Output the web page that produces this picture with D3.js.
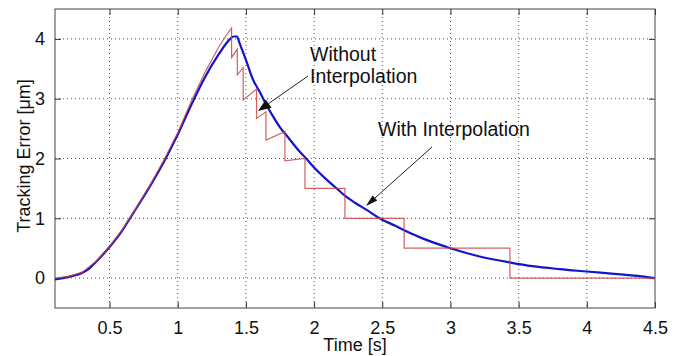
<!DOCTYPE html>
<html lang="en">
<head>
  <meta charset="UTF-8">
  <script src="https://cdn.jsdelivr.net/npm/d3@7"></script>
  <title>Tracking Error</title>
  <style>
    body { margin: 0; background: #fff; }
    text { font-family: "Liberation Sans", Arial, sans-serif; fill: #111; }
    .grid line { stroke: #555; stroke-dasharray: 1,3; }
  </style>
</head>
<body>
  <script>
    // blue curve: with interpolation [time s, error um]
    const withInterp = [
      [0.1, -0.02], [0.2, 0.02], [0.3, 0.09], [0.35, 0.16], [0.4, 0.27], [0.5, 0.52],
      [0.6, 0.82], [0.65, 1.0], [0.7, 1.18], [0.8, 1.55], [0.9, 1.95], [1.0, 2.4],
      [1.1, 2.9], [1.2, 3.36], [1.3, 3.74], [1.376, 3.98], [1.41, 4.04], [1.435, 4.04],
      [1.45, 3.95], [1.5, 3.65], [1.55, 3.33], [1.6, 3.12], [1.65, 2.9], [1.7, 2.7],
      [1.75, 2.52], [1.8, 2.38], [1.9, 2.1], [1.93, 2.03], [2.0, 1.85], [2.1, 1.63],
      [2.165, 1.5], [2.23, 1.37], [2.3, 1.26], [2.4, 1.12], [2.48, 1.0], [2.6, 0.87],
      [2.66, 0.8], [2.8, 0.66], [3.0, 0.5], [3.2, 0.37], [3.44, 0.26], [3.6, 0.2],
      [3.8, 0.15], [4.0, 0.11], [4.2, 0.07], [4.4, 0.03], [4.5, 0.0]
    ];
    // red curve: without interpolation
    const withoutInterp = [
      [0.1, 0.0], [0.2, 0.03], [0.3, 0.1], [0.4, 0.28], [0.5, 0.53], [0.6, 0.83],
      [0.7, 1.19], [0.8, 1.57], [0.9, 1.98], [1.0, 2.43], [1.1, 2.96], [1.2, 3.44],
      [1.3, 3.86], [1.35, 4.04], [1.395, 4.18],
      [1.395, 3.69], [1.437, 3.83], [1.437, 3.4], [1.48, 3.52], [1.48, 2.98],
      [1.578, 3.16], [1.578, 2.67], [1.647, 2.78], [1.647, 2.31], [1.786, 2.45],
      [1.786, 1.96], [1.933, 2.0], [1.933, 1.5], [2.226, 1.5], [2.226, 1.0],
      [2.66, 1.0], [2.66, 0.5], [3.436, 0.5], [3.436, 0.0], [4.5, 0.0]
    ];
    const xTicks = [0.5, 1, 1.5, 2, 2.5, 3, 3.5, 4, 4.5];
    const yTicks = [0, 1, 2, 3, 4];

    const width = 686, height = 356;
    const mLeft = 55, mRight = 655, mTop = 9, mBottom = 308;

    const x = d3.scaleLinear().domain([0.1, 4.5]).range([mLeft, mRight]);
    const y = d3.scaleLinear().domain([-0.5, 4.5]).range([mBottom, mTop]);

    const svg = d3.select("body").append("svg")
      .attr("width", width).attr("height", height);

    // grid
    const grid = svg.append("g").attr("class", "grid");
    grid.selectAll("line.gx").data(xTicks.filter(d => d < 4.5)).join("line").attr("class", "gx")
      .attr("x1", x).attr("x2", x).attr("y1", mTop).attr("y2", mBottom);
    grid.selectAll("line.gy").data(yTicks).join("line").attr("class", "gy")
      .attr("x1", mLeft).attr("x2", mRight).attr("y1", y).attr("y2", y);

    // axes, ticks inward on all sides
    const tickLen = 6;
    const fmt = d3.format("");
    const axB = svg.append("g").attr("transform", `translate(0,${mBottom})`)
      .call(d3.axisBottom(x).tickValues(xTicks).tickSizeInner(-tickLen).tickSizeOuter(0).tickPadding(13).tickFormat(fmt));
    const axT = svg.append("g").attr("transform", `translate(0,${mTop})`)
      .call(d3.axisTop(x).tickValues(xTicks).tickSizeInner(-tickLen).tickSizeOuter(0).tickFormat(""));
    const axL = svg.append("g").attr("transform", `translate(${mLeft},0)`)
      .call(d3.axisLeft(y).tickValues(yTicks).tickSizeInner(-tickLen).tickSizeOuter(0).tickPadding(10).tickFormat(fmt));
    const axR = svg.append("g").attr("transform", `translate(${mRight},0)`)
      .call(d3.axisRight(y).tickValues(yTicks).tickSizeInner(-tickLen).tickSizeOuter(0).tickFormat(""));
    [axB, axT, axL, axR].forEach(a => {
      a.select(".domain").remove();
      a.selectAll("line").attr("stroke", "#333");
      a.selectAll("text").attr("font-size", 18).attr("fill", "#111")
        .attr("font-family", "'Liberation Sans', Arial, sans-serif");
    });

    // box
    svg.append("rect").attr("x", mLeft).attr("y", mTop)
      .attr("width", mRight - mLeft).attr("height", mBottom - mTop)
      .attr("fill", "none").attr("stroke", "#444").attr("stroke-width", 1);

    const lineSmooth = d3.line().x(d => x(d[0])).y(d => y(d[1])).curve(d3.curveMonotoneX);
    const lineStep = d3.line().x(d => x(d[0])).y(d => y(d[1]));

    svg.append("path").datum(withInterp).attr("d", lineSmooth)
      .attr("fill", "none").attr("stroke", "#1414c8").attr("stroke-width", 2.2);
    svg.append("path").datum(withoutInterp).attr("d", lineStep)
      .attr("fill", "none").attr("stroke", "#c84646").attr("stroke-width", 1.2).attr("opacity", 0.85);

    // labels
    svg.append("text").attr("x", (mLeft + mRight) / 2).attr("y", 351)
      .attr("text-anchor", "middle").attr("font-size", 18).text("Time [s]");
    svg.append("text").attr("transform", "translate(30,156) rotate(-90)")
      .attr("text-anchor", "middle").attr("font-size", 18).text("Tracking Error [μm]");

    // annotations
    svg.append("text").attr("x", 310).attr("y", 61).attr("font-size", 19.5).text("Without");
    svg.append("text").attr("x", 310).attr("y", 83).attr("font-size", 19.5).text("Interpolation");
    svg.append("text").attr("x", 378).attr("y", 136).attr("font-size", 19.5).text("With Interpolation");

    function arrow(x1, y1, x2, y2, len, half) {
      const a = Math.atan2(y2 - y1, x2 - x1);
      const bx = x2 - len * Math.cos(a), by = y2 - len * Math.sin(a);
      svg.append("line").attr("x1", x1).attr("y1", y1).attr("x2", bx).attr("y2", by)
        .attr("stroke", "#222").attr("stroke-width", 1);
      const p = [[x2, y2],
        [bx + half * Math.sin(a), by - half * Math.cos(a)],
        [bx - half * Math.sin(a), by + half * Math.cos(a)]];
      svg.append("path").attr("d", "M" + p.join("L") + "Z").attr("fill", "#111");
    }
    arrow(308, 76, 258, 111, 13, 5);
    arrow(432, 147, 366, 206, 12, 3.5);
  </script>
</body>
</html>
